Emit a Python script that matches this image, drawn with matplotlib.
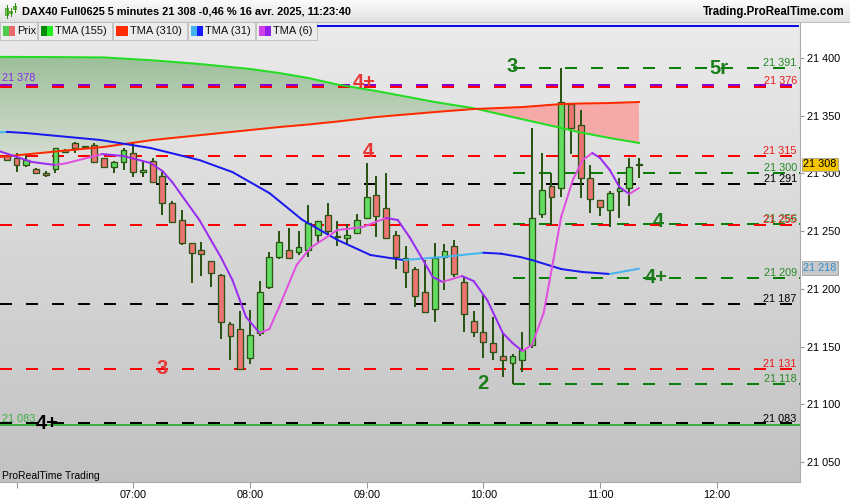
"""DAX40 5-minute chart, ProRealTime style, rebuilt with matplotlib."""

import matplotlib
matplotlib.use("Agg")
import matplotlib.pyplot as plt
import matplotlib.transforms as mtransforms
import numpy as np
from matplotlib.collections import LineCollection
from matplotlib.colors import LinearSegmentedColormap
from matplotlib.patches import Rectangle
from matplotlib.ticker import FuncFormatter

plt.rcParams["font.family"] = ["Liberation Sans", "DejaVu Sans"]
plt.rcParams["lines.scale_dashes"] = False


def tmin(s):
    h, m = s.split(":")
    return int(h) * 60 + float(m)


TITLE = "DAX40 Full0625 5 minutes 21 308 -0,46 % 16 avr. 2025, 11:23:40"
SITE = "Trading.ProRealTime.com"
FOOTER = "ProRealTime Trading"

# candles, one every 5 minutes from 05:55
BAR_START = "05:55"
BAR_MIN = 5
OPEN = [21315, 21313, 21307, 21304, 21300, 21304, 21319, 21326, 21323, 21325,
        21313, 21306, 21310, 21318, 21301, 21311, 21298, 21274, 21260, 21240,
        21234, 21224, 21212, 21170, 21165, 21140, 21162, 21202, 21228, 21234,
        21232, 21234, 21247, 21264, 21245, 21244, 21248, 21261, 21281, 21270,
        21247, 21227, 21217, 21197, 21183, 21228, 21237, 21206, 21172, 21163,
        21153, 21142, 21136, 21138, 21151, 21265, 21289, 21287, 21360, 21342,
        21296, 21277, 21268, 21285, 21287, 21307]
HIGH = [21316, 21318, 21316, 21305, 21302, 21322, 21321, 21327, 21324, 21326,
        21313, 21311, 21322, 21326, 21310, 21313, 21301, 21276, 21268, 21240,
        21241, 21224, 21213, 21171, 21181, 21182, 21207, 21232, 21250, 21253,
        21250, 21273, 21259, 21274, 21259, 21256, 21265, 21309, 21298, 21300,
        21250, 21237, 21219, 21225, 21240, 21239, 21242, 21210, 21181, 21195,
        21176, 21162, 21144, 21163, 21339, 21318, 21300, 21391, 21361, 21355,
        21307, 21277, 21285, 21296, 21313, 21313]
LOW = [21311, 21301, 21306, 21300, 21297, 21300, 21318, 21318, 21322, 21310,
       21305, 21300, 21303, 21297, 21297, 21292, 21264, 21258, 21238, 21205,
       21211, 21202, 21157, 21138, 21131, 21135, 21159, 21200, 21226, 21226,
       21229, 21228, 21241, 21247, 21237, 21238, 21248, 21261, 21245, 21243,
       21217, 21201, 21184, 21180, 21171, 21199, 21210, 21163, 21158, 21140,
       21138, 21124, 21118, 21128, 21149, 21261, 21255, 21280, 21317, 21279,
       21266, 21263, 21254, 21261, 21272, 21296]
CLOSE = [21312, 21307, 21312, 21300, 21299, 21322, 21320, 21322, 21323, 21310,
         21306, 21310, 21320, 21301, 21303, 21293, 21274, 21258, 21240, 21231,
         21230, 21214, 21171, 21159, 21131, 21160, 21197, 21228, 21241, 21227,
         21236, 21257, 21259, 21250, 21246, 21247, 21260, 21280, 21263, 21244,
         21228, 21215, 21194, 21180, 21227, 21233, 21213, 21178, 21163, 21154,
         21145, 21138, 21142, 21147, 21261, 21286, 21280, 21362, 21339, 21296,
         21278, 21271, 21283, 21287, 21306, 21308]

# TMA(155) and TMA(310), read at the same times
SLOW_T = ["05:51", "06:20", "06:45", "07:10", "07:35", "08:00", "08:15", "08:30", "08:45",
          "09:05", "09:35", "09:55", "10:20", "10:40", "10:50", "11:05", "11:20"]
TMA155 = [21401, 21400.8, 21400.5, 21398, 21394.7, 21390.5, 21387, 21382.7, 21377,
          21371.4, 21361.9, 21356.5, 21347, 21339.4, 21335.5, 21330.7, 21326.4]
TMA310 = [21314.2, 21319, 21323, 21329, 21333.3, 21337.6, 21340.2, 21342.4, 21345,
          21348.9, 21353.2, 21355.8, 21357.5, 21360.1, 21360.6, 21361, 21361.9]

TMA31_T = ["05:51", "05:55", "06:05", "06:43", "07:09", "07:34", "07:51", "08:10", "08:27",
           "08:45", "09:02", "09:19", "09:39", "10:00", "10:09", "10:19", "10:25", "10:40",
           "10:51", "11:05", "11:20"]
TMA31 = [21335.5, 21336, 21335, 21329, 21322, 21311.6, 21301.2, 21283, 21259.7,
         21242.4, 21229.3, 21225, 21227.6, 21231.3, 21230.5, 21227.6, 21225, 21217.2,
         21214.6, 21212.9, 21217.5]

TMA6_T = ["05:51", "06:08", "06:20", "06:26", "06:44", "06:55", "07:09", "07:15", "07:20",
          "07:34", "07:45", "07:51", "07:58", "08:05", "08:10", "08:15", "08:24", "08:31",
          "08:45", "08:58", "09:10", "09:16", "09:22", "09:29", "09:34", "09:39", "09:49",
          "09:55", "10:02", "10:10", "10:15", "10:20", "10:25", "10:31", "10:36", "10:40",
          "10:46", "10:51", "10:56", "11:00", "11:05", "11:10", "11:15", "11:20"]
TMA6 = [21319.4, 21309.9, 21307.3, 21309, 21316.8, 21315.1, 21309, 21302.1, 21292.6,
        21259.7, 21227.6, 21207.7, 21175.6, 21161.8, 21165.2, 21184.3, 21220.7, 21235.4,
        21251, 21253.6, 21261.4, 21259.7, 21245, 21225, 21210.3, 21206, 21211.1,
        21206.8, 21190.3, 21161.8, 21153.1, 21146.2, 21151.4, 21179.1, 21225, 21262.3,
        21294.3, 21311.6, 21317.7, 21313.4, 21303, 21288.2, 21282.2, 21287.4]

# horizontal levels: g = green (from 10:15), r = red, k = black
LEVELS = [21391, 21376, 21315, 21300, 21291, 21256, 21255, 21209, 21187, 21131, 21118, 21083]
LEVEL_KIND = ["g", "r", "r", "g", "k", "g", "r", "g", "k", "r", "g", "k"]
GREEN_START = "10:15"
SUPPORT = 21083
PURPLE_LEVEL = 21376
LEFT_LABELS = [(21378, "#8a2be2"), (21083, "#3cb043")]

WAVES = ["4+", "3", "5r", "4", "4", "4+", "3", "2", "4+"]
WAVE_T = ["08:59", "10:15", "12:01", "09:01", "11:30", "11:29", "07:15", "10:00", "06:16"]
WAVE_P = [21379, 21393, 21391, 21318.6, 21258, 21210, 21131, 21118.4, 21083]
WAVE_KIND = ["r", "g", "g", "r", "g", "g", "r", "g", "k"]

YTICKS = [21050, 21100, 21150, 21200, 21250, 21300, 21350, 21400]
XTICKS = ["06:00", "07:00", "08:00", "09:00", "10:00", "11:00", "12:00"]
LAST_PRICE = 21308
TMA31_LAST = 21218

LEGEND = [("Prix", "#4ccc4c", "#e86a6a"), ("TMA (155)", "#0a8a0a", "#22ee22"),
          ("TMA (310)", "#ff2a00", "#ff2a00"), ("TMA (31)", "#40b4f0", "#1a1aff"),
          ("TMA (6)", "#d040e8", "#9020f0")]
LEGEND_X = [0, 38, 113, 188, 256, 318]

LINE_COL = {"g": "#0a800a", "r": "#ff0000", "k": "#000000"}
LABEL_COL = {"g": "#258a25", "r": "#ee1a1a", "k": "#000000"}
WAVE_COL = {"g": "#1a7d1a", "r": "#e83535", "k": "#000000"}
EDGE = "#2b5512"


def fmt(v):
    v = int(round(v))
    return f"{v // 1000} {v % 1000:03d}"


def slope_line(ax, ts, vs, up, down, lw):
    pts = np.column_stack([ts, vs])
    segs = np.stack([pts[:-1], pts[1:]], axis=1)
    cols = [up if b >= a else down for a, b in zip(vs[:-1], vs[1:])]
    ax.add_collection(LineCollection(segs, colors=cols, linewidths=lw, zorder=5,
                                     capstyle="round", joinstyle="round"))


fig = plt.figure(figsize=(8.5, 5.0), dpi=100)
ax = fig.add_axes([0, 18 / 500, 800 / 850, 460 / 500])
X0, X1 = tmin("05:51.5"), tmin("12:42.8")
Y0, Y1 = 21032.7, 21431.2
PX = 0.72  # one pixel in points

bg = LinearSegmentedColormap.from_list("bg", ["#c2c2c2", "#ebebeb"])
ax.imshow(np.linspace(0, 1, 256).reshape(-1, 1), cmap=bg, aspect="auto",
          extent=(X0, X1, Y0, Y1), origin="lower", zorder=0)

# band between the two slow averages
st = np.array([tmin(s) for s in SLOW_T])
g155, r310 = np.array(TMA155), np.array(TMA310)
up_band = ax.fill_between(st, g155, r310, where=g155 >= r310, interpolate=True,
                          facecolor="none", edgecolor="none")
gband = LinearSegmentedColormap.from_list("gb", ["#d4dcd1", "#9dbf9a"])
im = ax.imshow(np.linspace(0, 1, 256).reshape(-1, 1), cmap=gband, aspect="auto",
               extent=(X0, X1, min(TMA310), max(TMA155)), origin="lower", zorder=1)
im.set_clip_path(up_band.get_paths()[0], transform=ax.transData)
ax.fill_between(st, g155, r310, where=r310 > g155, interpolate=True,
                facecolor="#f5a9a9", edgecolor="none", zorder=1)

# levels
dash = (12 * PX, 14 * PX)
up1 = mtransforms.offset_copy(ax.transData, fig=fig, y=1.0, units="dots")
dn1 = mtransforms.offset_copy(ax.transData, fig=fig, y=-1.0, units="dots")
ax.plot([X0, X1], [SUPPORT, SUPPORT], color="#3cb043", lw=2 * PX, zorder=2, transform=dn1)
for p, kind in zip(LEVELS, LEVEL_KIND):
    start = tmin(GREEN_START) if kind == "g" else X0
    tr = ax.transData
    if p == PURPLE_LEVEL:
        ax.plot([start, X1], [p, p], color="#8a00d0", lw=2 * PX, dashes=dash, zorder=2,
                transform=up1)
        tr = dn1
    if p == SUPPORT:
        tr = up1
    ax.plot([start, X1], [p, p], color=LINE_COL[kind], lw=2 * PX, dashes=dash, zorder=2,
            transform=tr)

# candles
times = tmin(BAR_START) + BAR_MIN * np.arange(len(OPEN))
ax.vlines(times, LOW, HIGH, color=EDGE, lw=2 * PX, zorder=3)
for t, o, c in zip(times, OPEN, CLOSE):
    lo, hi = min(o, c), max(o, c)
    face = "#62dd62" if c >= o else "#ee7474"
    ax.add_patch(Rectangle((t - 1.5, lo), 3.0, max(hi - lo, 0.9), facecolor=face,
                           edgecolor=EDGE, lw=1.3 * PX, zorder=4))

# averages
ax.plot(st, TMA155, color="#22dd22", lw=2 * PX, zorder=5)
ax.plot(st, TMA310, color="#ff2a00", lw=2 * PX, zorder=5)
slope_line(ax, [tmin(s) for s in TMA31_T], TMA31, "#44b4ee", "#1a1aee", 2 * PX)
slope_line(ax, [tmin(s) for s in TMA6_T], TMA6, "#e050e0", "#9a2cf0", 2 * PX)

# level values
right = mtransforms.blended_transform_factory(ax.transAxes, ax.transData)
for p, kind in zip(LEVELS, LEVEL_KIND):
    ax.text(0.996, p, fmt(p), transform=right, ha="right", va="bottom", fontsize=7.8,
            color=LABEL_COL[kind], zorder=6)
for p, col in LEFT_LABELS:
    ax.text(0.003, p, fmt(p), transform=right, ha="left", va="bottom", fontsize=7.8,
            color=col, zorder=6)

for txt, t, p, kind in zip(WAVES, WAVE_T, WAVE_P, WAVE_KIND):
    ax.text(tmin(t), p, txt, ha="center", va="center", fontsize=14.5, fontweight="bold",
            color=WAVE_COL[kind], zorder=7)

# price tags on the scale
ax.text(1.004, LAST_PRICE, fmt(LAST_PRICE), transform=right, ha="left", va="center",
        fontsize=7.8, color="black", clip_on=False, zorder=8,
        bbox=dict(boxstyle="square,pad=0.15", fc="#f7c600", ec="#a0a0a0", lw=0.6))
ax.text(1.004, TMA31_LAST, fmt(TMA31_LAST), transform=right, ha="left", va="center",
        fontsize=7.8, color="#2a8fd6", clip_on=False, zorder=8,
        bbox=dict(boxstyle="square,pad=0.15", fc="#c8c8c8", ec="#a0a0a0", lw=0.6))

ax.set_xlim(X0, X1)
ax.set_ylim(Y0, Y1)
ax.yaxis.tick_right()
ax.set_yticks(YTICKS)
ax.yaxis.set_major_formatter(FuncFormatter(lambda v, _: fmt(v)))
ax.set_xticks([tmin(s) for s in XTICKS])
ax.set_xticklabels([""] + XTICKS[1:])
ax.tick_params(axis="y", length=3, width=0.8, color="#999999", labelsize=7.8, pad=2)
ax.tick_params(axis="x", length=4, width=0.8, color="#999999", labelsize=7.8, pad=2)
for side in ("top", "left"):
    ax.spines[side].set_visible(False)
for side in ("right", "bottom"):
    ax.spines[side].set_color("#aaaaaa")

# window chrome in pixel coordinates
ui = fig.add_axes([0, 0, 1, 1])
ui.patch.set_visible(False)
ui.axis("off")
hdr = LinearSegmentedColormap.from_list("hdr", ["#e2e2e2", "#fbfbfb"])
ui.imshow(np.linspace(0, 1, 64).reshape(-1, 1), cmap=hdr, aspect="auto",
          extent=(0, 850, 22, 0), origin="lower")
ui.plot([0, 850], [22, 22], color="#bdbdbd", lw=1 * PX)
ui.text(22, 11.5, TITLE, fontsize=7.9, fontweight="bold", va="center", ha="left")
ui.text(845, 11.5, SITE, fontsize=8.3, fontweight="bold", va="center", ha="right")
for x, hh, ll in [(7, 5, 18), (11, 8, 16), (15, 3, 12)]:
    ui.plot([x, x], [hh, ll], color="#3a8a1a", lw=1 * PX)
    ui.add_patch(Rectangle((x - 1.5, hh + 3), 3, ll - hh - 6, fc="#66dd44", ec="#3a8a1a", lw=0.5))
for (name, c1, c2), xa, xb in zip(LEGEND, LEGEND_X[:-1], LEGEND_X[1:]):
    ui.add_patch(Rectangle((xa, 22), xb - xa - 1, 18, fc="#ececec", ec="#c4c4c4", lw=1 * PX))
    ui.add_patch(Rectangle((xa + 3, 26), 6, 10, fc=c1, ec="none"))
    ui.add_patch(Rectangle((xa + 9, 26), 6, 10, fc=c2, ec="none"))
    ui.text(xa + 17, 31, name, fontsize=8, va="center", ha="left", color="#111111")
ui.plot([LEGEND_X[-1], 798], [26, 26], color="#0a0ae6", lw=2 * PX)
ui.text(2, 476, FOOTER, fontsize=7.5, va="center", ha="left")
ui.set_xlim(0, 850)
ui.set_ylim(500, 0)

fig.savefig("out.png", dpi=100, facecolor="white")
